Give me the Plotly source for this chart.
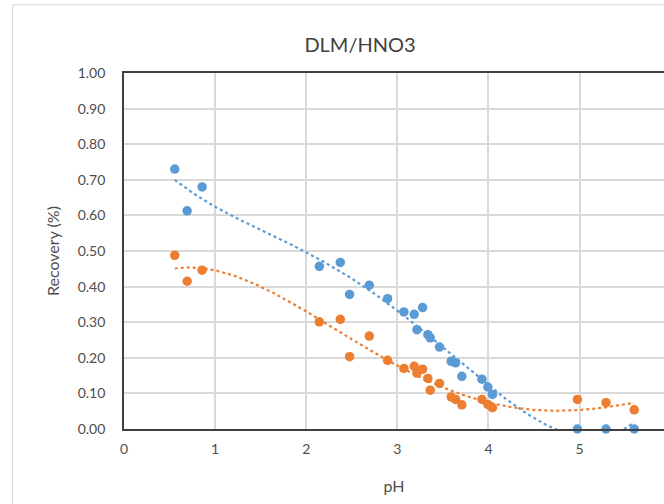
import numpy as np
import plotly.graph_objects as go

# Data
ph = [0.557, 0.693, 0.857, 2.144, 2.374, 2.476, 2.692, 2.893, 3.072, 3.185, 3.215, 3.277,
      3.335, 3.361, 3.463, 3.591, 3.639, 3.708, 3.928, 3.993, 4.044, 4.976, 5.29, 5.60]
blue_recovery = [0.730, 0.613, 0.680, 0.457, 0.468, 0.378, 0.404, 0.366, 0.329, 0.322, 0.279, 0.341,
                 0.265, 0.256, 0.230, 0.190, 0.186, 0.148, 0.140, 0.118, 0.097, 0.000, 0.000, 0.000]
orange_recovery = [0.488, 0.415, 0.446, 0.301, 0.308, 0.203, 0.261, 0.193, 0.170, 0.176, 0.157, 0.168,
                   0.142, 0.109, 0.128, 0.090, 0.083, 0.068, 0.083, 0.069, 0.060, 0.083, 0.074, 0.054]
x_ticks = [0, 1, 2, 3, 4, 5, 6]
y_ticks = [0.0, 0.1, 0.2, 0.3, 0.4, 0.5, 0.6, 0.7, 0.8, 0.9, 1.0]
trend_order = 4

BLUE = "#5B9BD5"
ORANGE = "#ED7D31"
FONT = "Lato"

# Polynomial trendlines fitted to the data (as the spreadsheet trendline does)
xs = np.linspace(min(ph), max(ph), 300)
blue_fit = np.polyval(np.polyfit(ph, blue_recovery, trend_order), xs)
orange_fit = np.polyval(np.polyfit(ph, orange_recovery, trend_order), xs)

fig = go.Figure()
fig.add_trace(go.Scatter(x=xs, y=blue_fit, mode="lines",
                         line=dict(color=BLUE, width=2.2, dash="dot"), hoverinfo="skip"))
fig.add_trace(go.Scatter(x=xs, y=orange_fit, mode="lines",
                         line=dict(color=ORANGE, width=2.2, dash="dot"), hoverinfo="skip"))
fig.add_trace(go.Scatter(x=ph, y=blue_recovery, mode="markers", cliponaxis=False,
                         marker=dict(color=BLUE, size=9.5)))
fig.add_trace(go.Scatter(x=ph, y=orange_recovery, mode="markers", cliponaxis=False,
                         marker=dict(color=ORANGE, size=9.5)))

# outer chart border (extends past the cropped picture)
fig.add_shape(type="rect", xref="paper", yref="paper", x0=-0.2063, x1=1.3, y0=-0.4, y1=1.192,
              line=dict(color="#d9d9d9", width=1), layer="below")

fig.update_layout(
    width=664, height=504,
    margin=dict(l=123.5, r=0, t=72.7, b=75.3, autoexpand=False),
    paper_bgcolor="white", plot_bgcolor="white",
    showlegend=False,
    font=dict(family=FONT, color="#595959", size=14),
    title=dict(text="DLM/HNO3", x=360 / 664, xref="container", xanchor="center",
               y=1 - 45 / 504, yref="container", yanchor="middle",
               font=dict(family=FONT, size=20, color="#404040")),
    xaxis=dict(range=[0, 540.5 / 91.2], tickvals=x_ticks, ticktext=[str(v) for v in x_ticks],
               showgrid=True, gridcolor="#d9d9d9", gridwidth=1.5,
               showline=True, linecolor="#404040", linewidth=1.8, mirror=True,
               ticks="outside", ticklen=6, tickcolor="rgba(0,0,0,0)",
               zeroline=False,
               title=dict(text="pH", font=dict(family=FONT, size=16, color="#4d4d4d"), standoff=25),
               tickfont=dict(family=FONT, size=14, color="#4d4d4d")),
    yaxis=dict(range=[0, 1], tickvals=y_ticks, ticktext=[f"{v:.2f}" for v in y_ticks],
               showgrid=True, gridcolor="#d9d9d9", gridwidth=1.5,
               showline=True, linecolor="#404040", linewidth=1.8,
               ticks="outside", ticklen=14, tickcolor="rgba(0,0,0,0)",
               zeroline=False,
               title=dict(text="Recovery (%)", font=dict(family=FONT, size=16, color="#4d4d4d"), standoff=14),
               tickfont=dict(family=FONT, size=14, color="#4d4d4d")),
)

fig.write_html("out.html", config={"displayModeBar": False},
               post_script="document.body.style.margin='0px';")
